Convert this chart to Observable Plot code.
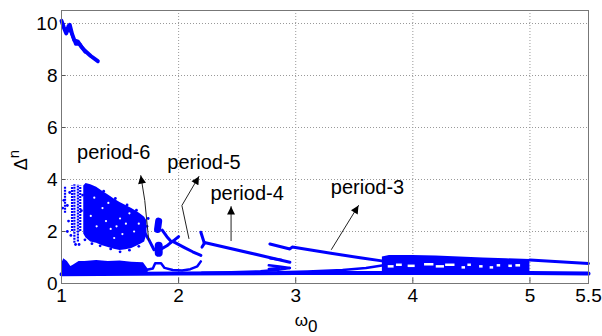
<!DOCTYPE html>
<html><head><meta charset="utf-8">
<script src="https://cdn.jsdelivr.net/npm/d3@7"></script>
<script src="https://cdn.jsdelivr.net/npm/@observablehq/plot@0.6"></script>
<style>body{margin:0;background:#fff} svg{display:block}</style>
</head><body><div id="chart"></div>
<script>
// ---- axes ----
const xTicks = [1, 2, 3, 4, 5, 5.5];
const yTicks = [0, 2, 4, 6, 8, 10];
const gridXs = [2, 3, 4, 5];
const gridYs = [2, 4, 6, 8, 10];

// ---- branches [omega0, Delta] ----
const topBranch = [[1.0,10.1],[1.02,9.85],[1.04,9.62],[1.06,9.9],[1.07,9.95],[1.09,9.6],[1.11,9.35],[1.14,9.3],[1.17,9.1],[1.2,8.95],[1.25,8.75],[1.31,8.55]];
const topBranch2 = [[1.04,9.75],[1.08,9.7],[1.12,9.2],[1.16,9.2],[1.2,8.9]];
const bottomLine = [[1.0,0.36],[2.0,0.38],[3.0,0.4],[4.0,0.4],[5.0,0.4],[5.5,0.38]];

// chaotic cloud (x, lower, upper)
const cloudX  = [1.19,1.21,1.25,1.3,1.35,1.4,1.45,1.5,1.55,1.6,1.65,1.68,1.71,1.73];
const cloudHi = [3.75,3.85,3.8,3.7,3.55,3.4,3.25,3.12,3.0,2.88,2.75,2.65,2.55,2.4];
const cloudLo = [1.9,1.75,1.6,1.55,1.45,1.38,1.32,1.27,1.3,1.35,1.45,1.52,1.6,1.9];
const cloudHoles = [[1.42,2.1],[1.5,2.5],[1.35,2.9],[1.55,2.3],[1.28,3.3],[1.62,2.0],[1.45,1.75],[1.38,2.4],[1.58,2.7],[1.3,2.2],[1.47,2.2],[1.52,1.9],[1.25,2.6],[1.4,3.1],[1.66,2.3]];
const cloudSpecks = [[1.05,3.0],[1.06,2.4],[1.07,3.5],[1.05,2.0],[1.17,2.8],[1.18,3.4],[1.08,1.85],[1.2,1.68],[1.26,1.53],[1.33,1.45],[1.42,1.33],[1.5,1.22],[1.58,1.28],[1.66,1.43],[1.74,2.5],[1.73,2.2],[1.36,3.55],[1.46,3.27],[1.56,3.02],[1.64,2.82],[1.15,1.5],[1.12,1.5],[1.02,3.2],[1.01,2.9]];
const stripeX  = [1.03,1.09,1.11,1.14,1.16];
const stripeLo = [2.7,2.0,1.55,1.6,2.0];
const stripeHi = [3.7,3.75,3.8,3.8,3.75];

// low chaotic band
const lowBandX  = [1.0,1.02,1.05,1.08,1.1,1.15,1.2,1.3,1.4,1.5,1.6,1.7,1.74];
const lowBandHi = [0.75,0.95,0.85,0.65,0.7,0.85,0.85,0.88,0.85,0.87,0.82,0.8,0.55];
const lowBandLo = [0.35,0.35,0.35,0.35,0.35,0.35,0.35,0.35,0.35,0.35,0.35,0.35,0.35];

// period-6 / period-5 region
const p6Tail     = [[1.71,1.95],[1.75,1.65],[1.79,1.3]];
const p6BlobLow  = [[1.83,1.18],[1.83,1.45]];
const p6BlobHigh = [[1.82,2.08],[1.83,2.4]];
const p6ArmUp    = [[1.94,1.6],[1.9,1.8],[1.86,2.05]];
const p6ArmDown  = [[1.94,1.6],[1.9,1.45],[1.86,1.35]];
const p5Arm      = [[1.95,1.62],[2.0,1.8]];
const p5Diag     = [[1.95,1.62],[2.05,1.38],[2.12,1.22],[2.19,1.08]];
const lowArc     = [[1.7,0.5],[1.78,0.58],[1.8,0.78],[1.85,0.78],[1.88,0.6],[1.95,0.52],[2.03,0.5],[2.1,0.55],[2.16,0.66],[2.19,0.85]];

// period-4
const p4ArmUp    = [[2.22,1.55],[2.19,1.97]];
const p4ArmDown  = [[2.22,1.55],[2.2,1.4]];
const p4Stem     = [[2.22,1.58],[2.95,0.82]];
const p4LobeUp   = [[2.78,0.97],[2.88,0.9]];
const p4LobeLow1 = [[2.77,0.7],[2.86,0.65],[2.95,0.6]];
const p4LobeLow2 = [[2.77,0.56],[2.86,0.6]];
const p4Lens     = [[2.95,0.6],[2.85,0.53],[2.7,0.47],[2.45,0.43],[2.2,0.41]];

// period-3
const p3Main = [[2.78,1.52],[2.95,1.33],[2.97,1.4],[3.3,1.16],[3.55,0.99],[3.75,0.86]];
const p3Lens = [[3.75,0.7],[3.6,0.6],[3.4,0.52],[3.1,0.46],[2.85,0.43]];

// dense band 3.75..5 and tail
const bandX  = [3.74,3.8,4.0,4.2,4.4,4.6,4.8,5.0];
const bandHi = [1.02,1.08,1.08,1.06,1.02,0.98,0.95,0.92];
const bandLo = [0.35,0.36,0.37,0.38,0.38,0.38,0.39,0.39];
const holeX1 = [3.79,3.86,3.96,4.1,4.2,4.28,4.42,4.47,4.57,4.66,4.72,4.82,4.88];
const holeX2 = [3.84,3.91,4.02,4.18,4.27,4.36,4.45,4.5,4.6,4.69,4.75,4.85,4.92];
const holeY  = [0.66,0.72,0.68,0.74,0.66,0.72,0.62,0.72,0.66,0.62,0.7,0.68,0.7];
const tailUpper = [[5.0,0.9],[5.5,0.77]];

// annotations
const labelText = ["period-6","period-5","period-4","period-3"];
const labelX = [1.446,2.217,2.585,3.613];
const labelY = [5.04,4.65,3.46,3.69];
const arrowPaths = [
  [[1.745,1.65],[1.711,3.19],[1.677,4.15]],
  [[2.088,1.73],[2.028,3.0],[2.174,4.12]],
  [[2.448,1.65],[2.448,2.96]],
  [[3.305,1.31],[3.536,3.0]]
];

const BLUE = "#0000ff";
const branch = (data, w) => Plot.line(data, {x: d => d[0], y: d => d[1], stroke: BLUE, strokeWidth: w, strokeLinecap: "round", strokeLinejoin: "round"});
const band = (xs, lo, hi) => Plot.areaY(xs.map((x, i) => ({x, lo: lo[i], hi: hi[i]})), {x: "x", y1: "lo", y2: "hi", fill: BLUE});

const arrows = arrowPaths.flatMap((p, k) => p.map(([x, y]) => ({k, x, y})));

const plot = Plot.plot({
  width: 602, height: 336,
  marginLeft: 61, marginRight: 14, marginTop: 10, marginBottom: 53,
  style: {fontFamily: "'Liberation Sans', Arial, sans-serif", fontSize: "19px", color: "#000", background: "#fff"},
  x: {domain: [1, 5.5], ticks: xTicks, tickFormat: d => String(d), tickSize: 0, tickPadding: 5, label: null},
  y: {domain: [0, 10.5], ticks: yTicks, tickFormat: d => String(d), tickSize: 0, tickPadding: 4, label: null},
  marks: [
    Plot.ruleX(gridXs, {stroke: "#999", strokeDasharray: "1,2"}),
    Plot.ruleY(gridYs, {stroke: "#999", strokeDasharray: "1,2"}),
    Plot.ruleX(gridXs, {y1: 0, y2: 0.2, stroke: "#555"}),
    Plot.ruleY(gridYs, {x1: 1, x2: 1.04, stroke: "#555"}),
    band(cloudX, cloudLo, cloudHi),
    Plot.dot(cloudHoles, {x: d => d[0], y: d => d[1], r: 1.1, fill: "#fff", stroke: "none"}),
    Plot.dot(cloudSpecks, {x: d => d[0], y: d => d[1], r: 1.4, fill: BLUE, stroke: "none"}),
    Plot.ruleX(stripeX.map((x, i) => ({x, lo: stripeLo[i], hi: stripeHi[i]})), {x: "x", y1: "lo", y2: "hi", stroke: BLUE, strokeWidth: 2.2, strokeDasharray: "2,1"}),
    band(lowBandX, lowBandLo, lowBandHi),
    band(bandX, bandLo, bandHi),
    Plot.ruleY(holeY.map((y, i) => ({y, a: holeX1[i], b: holeX2[i]})), {y: "y", x1: "a", x2: "b", stroke: "#fff", strokeWidth: 2.5}),
    branch(topBranch, 4), branch(topBranch2, 3),
    branch(bottomLine, 4),
    branch(p6Tail, 3), branch(p6BlobLow, 8), branch(p6BlobHigh, 7),
    branch(p6ArmUp, 3), branch(p6ArmDown, 3), branch(p5Arm, 3), branch(p5Diag, 3), branch(lowArc, 2.5),
    branch(p4ArmUp, 3), branch(p4ArmDown, 3), branch(p4Stem, 3),
    branch(p4LobeUp, 2.5), branch(p4LobeLow1, 2.5), branch(p4LobeLow2, 2.5), branch(p4Lens, 2.5),
    branch(p3Main, 3), branch(p3Lens, 2.5),
    branch(tailUpper, 3),
    Plot.line(arrows, {x: "x", y: "y", z: "k", stroke: "#222", strokeWidth: 1, ariaDescription: "arrows"}),
    Plot.text(labelText.map((t, i) => ({t, x: labelX[i], y: labelY[i]})), {x: "x", y: "y", text: "t", fontSize: 20, fill: "#000"}),
    Plot.frame({stroke: "#777"})
  ]
});

const svg = d3.select(plot);
const defs = svg.append("defs");
defs.append("marker").attr("id", "ah").attr("viewBox", "0 0 10 10")
  .attr("refX", 10).attr("refY", 5).attr("markerWidth", 9).attr("markerHeight", 8)
  .attr("markerUnits", "userSpaceOnUse").attr("orient", "auto")
  .append("path").attr("d", "M0,0L10,5L0,10z").attr("fill", "#000");
svg.selectAll('g[aria-description="arrows"] path').attr("marker-end", "url(#ah)");

// axis labels
const xl = svg.append("text").attr("x", 306).attr("y", 326).attr("font-size", 17).attr("fill", "#000");
xl.append("tspan").text("ω");
xl.append("tspan").attr("dy", 6).text("0");
const yl = svg.append("text").attr("transform", "translate(27,160) rotate(-90)").attr("font-size", 18).attr("fill", "#000");
yl.append("tspan").text("Δ");
yl.append("tspan").attr("dy", -8).attr("font-size", 15).text("n");

document.getElementById("chart").appendChild(plot);
</script>
</body></html>
